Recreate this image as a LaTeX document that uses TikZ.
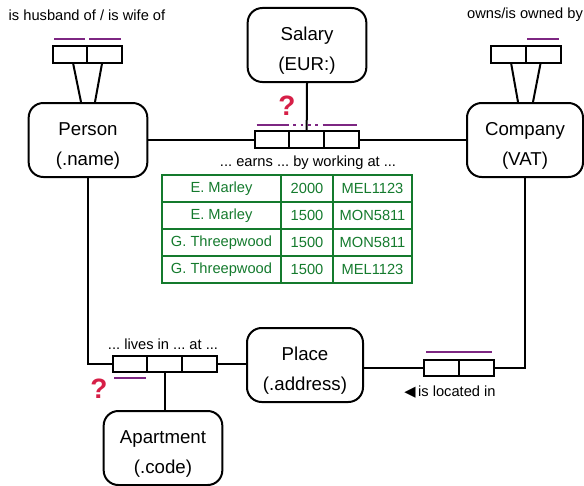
\documentclass[tikz,border=0pt]{standalone}
\usepackage{fontspec}
\setmainfont{Liberation Sans}
\newfontfamily\symfont{DejaVu Sans}
\usepackage{tikz}
\usetikzlibrary{positioning}
\definecolor{rolepurple}{RGB}{125,38,130}
\definecolor{askred}{RGB}{214,31,71}
\definecolor{tablegreen}{RGB}{20,122,45}
\frenchspacing

\begin{document}
\begin{tikzpicture}[
    x=0.75pt, y=-0.75pt,
    entity/.style={rectangle, rounded corners=11pt, draw, line width=1.5pt, minimum width=89pt, minimum height=55.5pt, inner ysep=2pt, align=center, text height=41.4pt, text depth=3pt, font=\fontsize{14}{22.5}\selectfont},
    cell/.style={rectangle, draw, line width=1.5pt, minimum width=26pt, minimum height=12.5pt, inner sep=0pt, outer sep=0pt},
    role/.style={draw=rolepurple, line width=1.5pt},
    link/.style={draw, line width=1.5pt},
    reading/.style={font=\fontsize{11}{13}\selectfont},
    ask/.style={font=\fontsize{21}{24}\selectfont\bfseries, text=askred},
    tcell/.style={rectangle, draw=tablegreen, line width=1.5pt, text=tablegreen, minimum height=20.25pt, inner sep=0pt, outer sep=0pt, font=\fontsize{11}{13}\selectfont},
    namecol/.style={tcell, minimum width=89.25pt},
    sumcol/.style={tcell, minimum width=39pt},
    sitecol/.style={tcell, minimum width=59.25pt}
]
\useasboundingbox (0,0) rectangle (584,485);

% entities
\node[entity] (person) at (88,140) {Person\\(.name)};
\node[entity] (salary) at (307,45) {Salary\\(EUR:)};
\node[entity, minimum width=87pt] (company) at (525,140) {Company\\(VAT)};
\node[entity, minimum width=87pt] (place) at (305,365) {Place\\(.address)};
\node[entity] (apartment) at (163,448) {Apartment\\(.code)};

% fact boxes
\node[cell] (wed1) at (70,54.5) {};
\node[cell, right=0pt of wed1] (wed2) {};
\node[cell] (own1) at (508.5,54.5) {};
\node[cell, right=0pt of own1] (own2) {};
\node[cell] (earn1) at (272,139.5) {};
\node[cell, right=0pt of earn1] (earn2) {};
\node[cell, right=0pt of earn2] (earn3) {};
\node[cell] (live1) at (130,364) {};
\node[cell, right=0pt of live1] (live2) {};
\node[cell, right=0pt of live2] (live3) {};
\node[cell] (loc1) at (441.5,368) {};
\node[cell, right=0pt of loc1] (loc2) {};

% connectors
\draw[link] ([xshift=2.25pt]wed1.south) -- ([xshift=-5.25pt]person.north);
\draw[link] ([xshift=-1.9pt]wed2.south) -- ([xshift=5.25pt]person.north);
\draw[link] ([xshift=1.9pt]own1.south) -- ([xshift=-5.25pt]company.north);
\draw[link] ([xshift=-1.9pt]own2.south) -- ([xshift=6pt]company.north);
\draw[link] (salary.south) -- (earn2.north);
\draw[link] (person.east |- earn1.west) -- (earn1.west);
\draw[link] (earn3.east) -- (company.west |- earn3.east);
\draw[link] (person.south) |- (live1.west);
\draw[link] (live3.east) -- (place.west |- live3.east);
\draw[link] (live2.south) -- (live2.south |- apartment.north);
\draw[link] (place.east |- loc1.west) -- (loc1.west);
\draw[link] (loc2.east) -| (company.south);

% roles
\draw[role] ([shift={(1pt,5.25pt)}]wed1.north west) -- ([shift={(-1.5pt,5.25pt)}]wed1.north east);
\draw[role] ([shift={(1.5pt,5.25pt)}]wed2.north west) -- ([shift={(-1pt,5.25pt)}]wed2.north east);
\draw[role] ([shift={(1pt,5.25pt)}]own2.north west) -- ([shift={(-1pt,5.25pt)}]own2.north east);
\draw[role] ([shift={(1.5pt,4.5pt)}]earn1.north west) -- ([yshift=4.5pt]earn1.north east);
\draw[role, dash pattern=on 2pt off 3.5pt] ([shift={(3pt,4.5pt)}]earn2.north west) -- ([yshift=4.5pt]earn2.north east);
\draw[role] ([yshift=4.5pt]earn3.north west) -- ([shift={(-1.5pt,4.5pt)}]earn3.north east);
\draw[role] ([shift={(1pt,-4.5pt)}]live1.south west) -- ([shift={(-1pt,-4.5pt)}]live1.south east);
\draw[role] ([shift={(1.5pt,6pt)}]loc1.north west) -- ([shift={(-1pt,6pt)}]loc2.north east);

\node[ask] (askearn) at (287,106) {?};
\node[ask] (asklive) at (99,389) {?};

% labels
\node[reading] (wedlabel) at (87,15) {is husband of / is wife of};
\node[reading] (ownlabel) at (525,15) {owns/is owned by};
\node[reading] (earnlabel) at (308,163) {... earns ... by working at ...};
\node[reading] (livelabel) at (163,344) {... lives in ... at ...};
\node[reading] (loclabel) at (450,392) {{\symfont ◀}\,is located in};

% population of earns
\node[namecol] (t11) at (221.5,188.5) {E. Marley};
\node[sumcol, right=0pt of t11] (t12) {2000};
\node[sitecol, right=0pt of t12] (t13) {MEL1123};
\node[namecol, below=0pt of t11] (t21) {E. Marley};
\node[sumcol, right=0pt of t21] (t22) {1500};
\node[sitecol, right=0pt of t22] (t23) {MON5811};
\node[namecol, below=0pt of t21] (t31) {G. Threepwood};
\node[sumcol, right=0pt of t31] (t32) {1500};
\node[sitecol, right=0pt of t32] (t33) {MON5811};
\node[namecol, below=0pt of t31] (t41) {G. Threepwood};
\node[sumcol, right=0pt of t41] (t42) {1500};
\node[sitecol, right=0pt of t42] (t43) {MEL1123};
\end{tikzpicture}
\end{document}
